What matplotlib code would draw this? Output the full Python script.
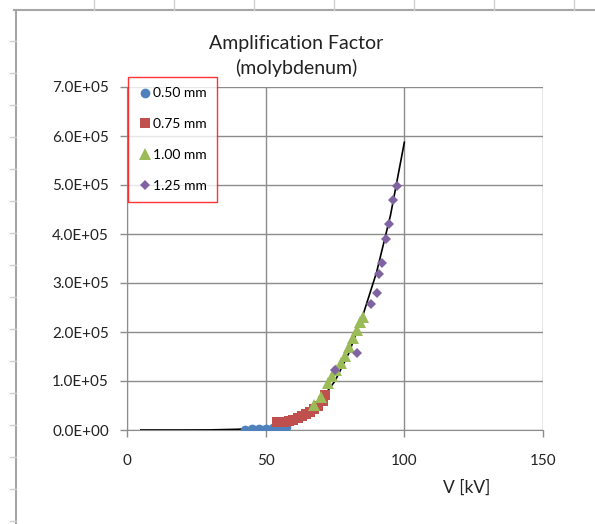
import numpy as np
import matplotlib
matplotlib.use('Agg')
import matplotlib.pyplot as plt
from matplotlib.lines import Line2D
from matplotlib.ticker import FuncFormatter

plt.rcParams['font.family'] = ['Lato', 'DejaVu Sans']

v_050 = [42.5, 45, 47.5, 50, 52.5, 55, 57.5]
y_050 = [1e3, 1.5e3, 2e3, 3e3, 4e3, 5e3, 7e3]

v_075 = [54, 55.5, 57, 58.5, 60, 61.5, 63, 64.5, 66, 67.5, 69, 70.5, 71.5]
y_075 = [1.6e4, 1.6e4, 1.7e4, 1.9e4, 2.1e4, 2.4e4, 2.8e4, 3.2e4, 3.7e4, 4.2e4,
         5.0e4, 6.0e4, 7.2e4]

v_100 = [67.5, 70, 72.5, 74, 75.5, 77, 78.5, 80, 81.5, 83, 84, 85]
y_100 = [5.2e4, 6.8e4, 9.5e4, 1.1e5, 1.22e5, 1.36e5, 1.52e5, 1.7e5, 1.88e5,
         2.05e5, 2.2e5, 2.3e5]

v_125 = [75, 83, 88, 90, 91, 92, 93.5, 94.5, 96, 97.5]
y_125 = [1.23e5, 1.57e5, 2.57e5, 2.8e5, 3.18e5, 3.4e5, 3.9e5, 4.2e5, 4.7e5, 4.97e5]

# Trend line
v_fit = [5, 20, 30, 40, 50, 55, 60, 65, 70, 75, 80, 85, 90, 95, 100]
y_fit = [0, 0, 200, 1.5e3, 5e3, 1.0e4, 2.0e4, 3.6e4, 6.2e4, 1.0e5, 1.57e5,
         2.33e5, 3.22e5, 4.38e5, 5.87e5]

series = [
    ('0.50 mm', v_050, y_050, 'o', '#4F81BD', 7.0),
    ('0.75 mm', v_075, y_075, 's', '#C0504D', 7.0),
    ('1.00 mm', v_100, y_100, '^', '#9BBB59', 8.0),
    ('1.25 mm', v_125, y_125, 'D', '#8064A2', 5.5),
]

W, H = 595, 524
fig = plt.figure(figsize=(W / 100, H / 100), dpi=100)
ax = fig.add_axes([127 / W, (H - 430) / H, (543 - 127) / W, (430 - 87) / H])

grid_col = '#8c8c8c'
ax.plot(v_fit, y_fit, color='black', lw=1.2, zorder=3)
for label, v, y, m, c, ms in series:
    ax.plot(v, y, linestyle='none', marker=m, color=c, markersize=ms,
            markeredgewidth=0, label=label, zorder=4)

ax.set_xlim(0, 150)
ax.set_ylim(0, 7e5)
ax.set_xticks([0, 50, 100, 150])
ax.set_yticks(np.arange(0, 7.01e5, 1e5))
ax.yaxis.set_major_formatter(FuncFormatter(lambda val, pos: f'{val:.1E}'))
ax.grid(True, color=grid_col, lw=1.0)
ax.set_axisbelow(True)
for side in ['top', 'right']:
    ax.spines[side].set_visible(False)
for side in ['left', 'bottom']:
    ax.spines[side].set_color(grid_col)
ax.tick_params(colors=grid_col, labelcolor='#222222', labelsize=11, length=5,
               width=1.0)
ax.tick_params(axis='y', pad=8)
ax.tick_params(axis='x', pad=12)

fig.text(296 / W, 1 - 56 / H, 'Amplification Factor\n(molybdenum)',
         ha='center', va='center', fontsize=14, color='#222222', linespacing=1.45)
fig.text(467 / W, 1 - 488 / H, 'V [kV]', ha='center', va='center',
         fontsize=12.5, color='#222222')

leg = fig.legend(loc='upper left', bbox_to_anchor=(128 / W, 1 - 77 / H),
                 fontsize=10, frameon=True, fancybox=False, handletextpad=0.05,
                 handlelength=1.0, labelspacing=1.35, borderpad=0.75,
                 borderaxespad=0)
leg.get_frame().set_edgecolor('#ff0000')
leg.get_frame().set_linewidth(1.0)

# spreadsheet border seen behind the chart
sheet = '#a6a6a6'
fig.add_artist(Line2D([16 / W, 16 / W], [0, 1 - 10 / H], color=sheet, lw=1.5))
fig.add_artist(Line2D([14 / W, 1], [1 - 10 / H, 1 - 10 / H], color=sheet, lw=1.5))
for yp in range(41, H, 32):
    fig.add_artist(Line2D([10 / W, 16 / W], [1 - yp / H, 1 - yp / H], color='#d0d0d0', lw=1))
for xp in range(94, W, 80):
    fig.add_artist(Line2D([xp / W, xp / W], [1 - 10 / H, 1], color='#d0d0d0', lw=1))

fig.savefig('out.png', dpi=100)
